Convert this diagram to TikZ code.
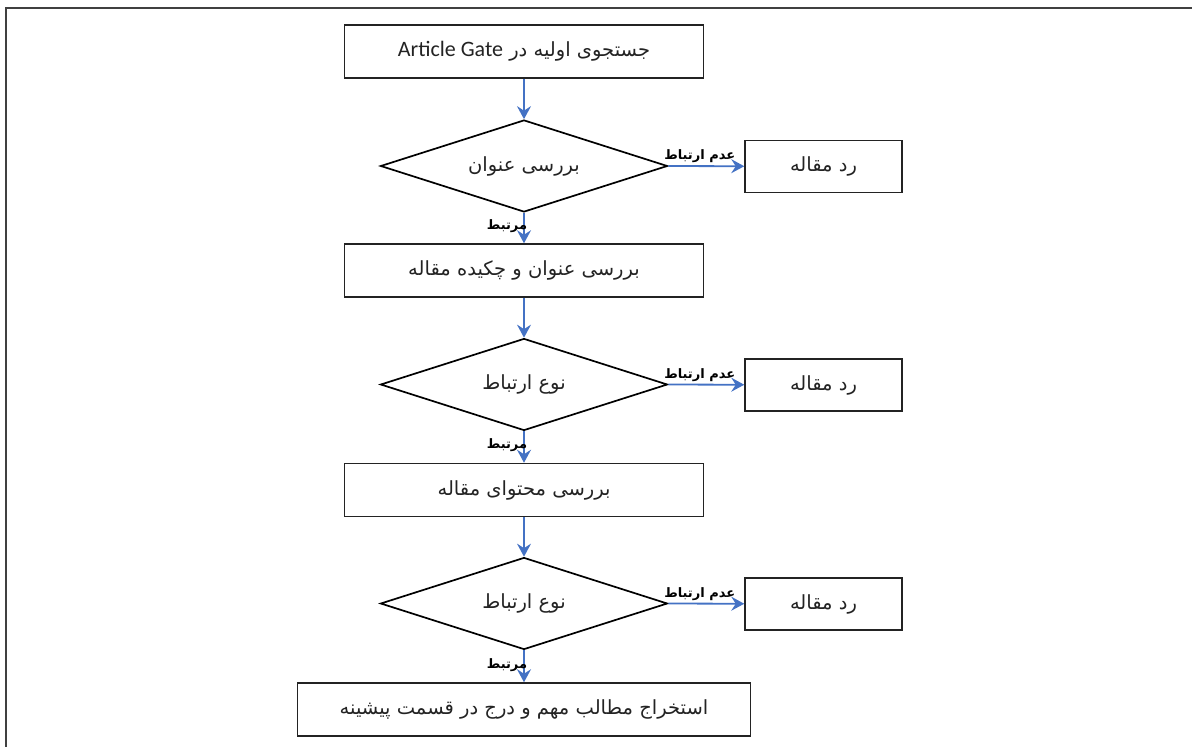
\documentclass[tikz,border=0pt]{standalone}
\usepackage{fontspec}
\TeXXeTstate=1
\newfontfamily\arabicfont[Script=Arabic]{DejaVu Sans}
\newfontfamily\latinfont{Carlito}
\usetikzlibrary{shapes.geometric,arrows.meta}
\definecolor{arrowblue}{RGB}{68,114,196}
\definecolor{framegray}{RGB}{64,64,64}
\definecolor{inkgray}{RGB}{35,35,35}
\begin{document}
\begin{tikzpicture}[x=1pt,y=-1pt,
  box/.style={draw=inkgray, line width=1.5pt, minimum width=359pt, minimum height=53pt,
    inner sep=0pt, text=inkgray, font=\arabicfont\fontsize{19.5}{22}\selectfont},
  rejbox/.style={box, minimum width=157pt, minimum height=52pt},
  widebox/.style={box, minimum width=453pt},
  decision/.style={diamond, draw=black, line width=1.7pt, aspect=3.12,
    minimum width=287pt, minimum height=92pt, inner sep=0pt, text=inkgray,
    font=\arabicfont\fontsize{19.5}{22}\selectfont},
  flow/.style={draw=arrowblue, line width=1.8pt, -{Stealth[length=13pt,width=14pt,inset=4.5pt]}},
  lbl/.style={font=\arabicfont\bfseries\fontsize{13}{15}\selectfont, text=black, inner sep=1pt}]
\useasboundingbox (0,0) rectangle (1192,747);
\draw[framegray, line width=2.2pt] (6,747) -- (6,8) -- (1192,8);

\node[box] (s1) at (524,51.5) {\beginR جستجوی اولیه در \beginL{\latinfont\fontsize{22}{24}\selectfont Article Gate}\endL\endR};
\node[decision] (d1) at (524,166) {\beginR بررسی عنوان\endR};
\node[rejbox] (r1) at (823.5,166.5) {\beginR رد مقاله\endR};
\node[box] (s2) at (524,270.5) {\beginR بررسی عنوان و چکیده مقاله\endR};
\node[decision] (d2) at (524,384.5) {\beginR نوع ارتباط\endR};
\node[rejbox] (r2) at (823.5,385) {\beginR رد مقاله\endR};
\node[box] (s3) at (524,490) {\beginR بررسی محتوای مقاله\endR};
\node[decision] (d3) at (524,603.5) {\beginR نوع ارتباط\endR};
\node[rejbox] (r3) at (823.5,604) {\beginR رد مقاله\endR};
\node[widebox] (s4) at (524,709.5) {\beginR استخراج مطالب مهم و درج در قسمت پیشینه\endR};

\draw[flow] (s1) -- (d1);
\draw[flow] (d1.east) -- node[lbl, pos=0, anchor=south west, xshift=-6pt, yshift=1pt] {\beginR عدم ارتباط\endR} (r1);
\draw[flow] (d1.south) -- node[lbl, pos=0.45, anchor=east, xshift=5pt] {\beginR مرتبط\endR} (s2);
\draw[flow] (s2) -- (d2);
\draw[flow] (d2.east) -- node[lbl, pos=0, anchor=south west, xshift=-6pt, yshift=1pt] {\beginR عدم ارتباط\endR} (r2);
\draw[flow] (d2.south) -- node[lbl, pos=0.45, anchor=east, xshift=5pt] {\beginR مرتبط\endR} (s3);
\draw[flow] (s3) -- (d3);
\draw[flow] (d3.east) -- node[lbl, pos=0, anchor=south west, xshift=-6pt, yshift=1pt] {\beginR عدم ارتباط\endR} (r3);
\draw[flow] (d3.south) -- node[lbl, pos=0.45, anchor=east, xshift=5pt] {\beginR مرتبط\endR} (s4);
\end{tikzpicture}
\end{document}
